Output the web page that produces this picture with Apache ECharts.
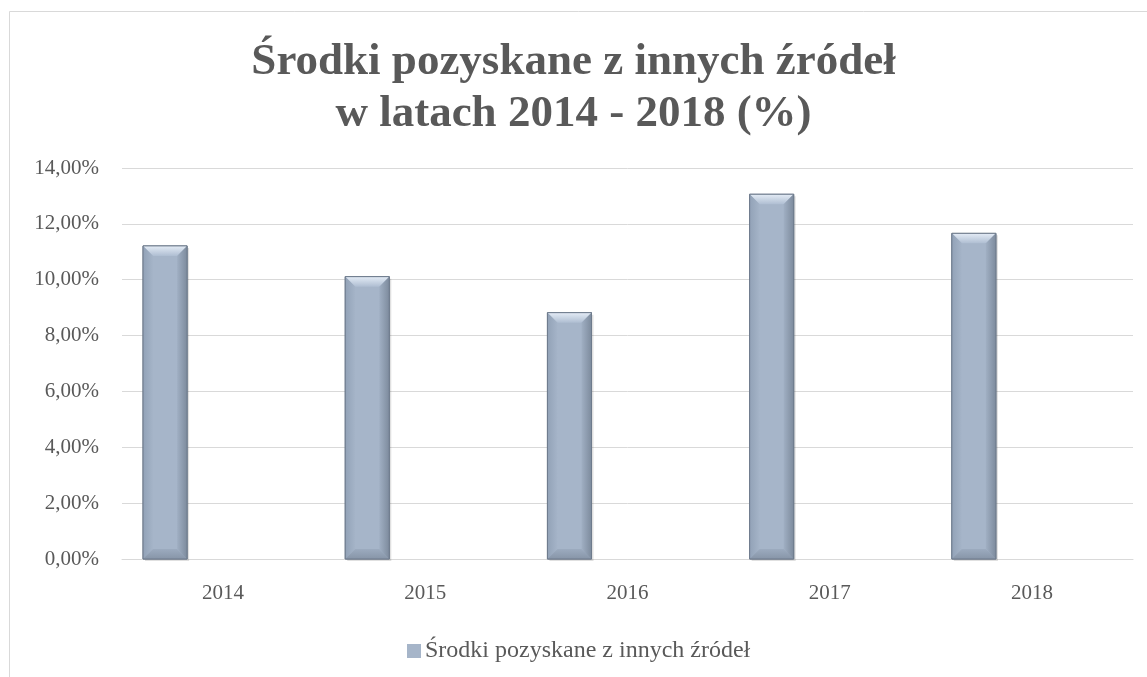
<!DOCTYPE html>
<html>
<head>
<meta charset="utf-8">
<script src="https://cdn.jsdelivr.net/npm/echarts@6/dist/echarts.min.js"></script>
<style>
html,body{margin:0;padding:0;background:#fff;}
#chart{width:1147px;height:677px;}
</style>
</head>
<body>
<div id="chart"></div>
<script>
const titleLines = ['Środki pozyskane z innych źródeł', 'w latach 2014 - 2018 (%)'];
const seriesName = 'Środki pozyskane z innych źródeł';
const categories = ['2014', '2015', '2016', '2017', '2018'];
const values = [11.21, 10.11, 8.82, 13.06, 11.66];
const yTicks = { min: 0, max: 14, interval: 2 };

const FONT = '"Liberation Serif", "DejaVu Serif", serif';
const TXT = '#595959';

function renderBar(params, api) {
  const idx = api.value(0);
  const val = api.value(1);
  const base = api.coord([idx, 0]);
  const top = api.coord([idx, val]);
  const band = api.size([1, 0])[0];
  const w = band * 0.218;
  const x0 = base[0] - band / 2 + band * 0.104;
  const x1 = x0 + w;
  const y0 = top[1];
  const y1 = base[1];
  const b = 10;
  return {
    type: 'group',
    children: [
      { type: 'rect', shape: { x: x0 + 2, y: y0 + 2, width: w, height: y1 - y0 },
        style: { fill: 'rgba(0,0,0,0.12)' } },
      { type: 'rect', shape: { x: x0, y: y0, width: w, height: y1 - y0 },
        style: { fill: new echarts.graphic.LinearGradient(0, 0, 1, 0, [
          { offset: 0, color: '#97A7BC' }, { offset: 0.2, color: '#A6B5C9' },
          { offset: 0.8, color: '#A6B5C9' }, { offset: 1, color: '#8694A7' }]),
          stroke: '#6E7B8C', lineWidth: 1 } },
      { type: 'polygon', shape: { points: [[x0, y0], [x1, y0], [x1 - b, y0 + b], [x0 + b, y0 + b]] },
        style: { fill: new echarts.graphic.LinearGradient(0, 0, 0, 1, [
          { offset: 0, color: '#E4ECF6' }, { offset: 1, color: '#AFBED2' }]) } },
      { type: 'polygon', shape: { points: [[x1, y0], [x1, y1], [x1 - b, y1 - b], [x1 - b, y0 + b]] },
        style: { fill: new echarts.graphic.LinearGradient(0, 0, 1, 0, [
          { offset: 0, color: '#A0AFC3' }, { offset: 1, color: '#7D8B9D' }]) } },
      { type: 'polygon', shape: { points: [[x0, y0], [x0, y1], [x0 + b, y1 - b], [x0 + b, y0 + b]] },
        style: { fill: new echarts.graphic.LinearGradient(0, 0, 1, 0, [
          { offset: 0, color: '#92A2B7' }, { offset: 1, color: '#A5B4C8' }]) } },
      { type: 'polygon', shape: { points: [[x0, y1], [x1, y1], [x1 - b, y1 - b], [x0 + b, y1 - b]] },
        style: { fill: new echarts.graphic.LinearGradient(0, 0, 0, 1, [
          { offset: 0, color: '#9CABBF' }, { offset: 1, color: '#8795A8' }]) } },
      { type: 'rect', shape: { x: x0, y: y0, width: w, height: y1 - y0 },
        style: { fill: 'none', stroke: '#6E7B8C', lineWidth: 1 } }
    ]
  };
}

const chart = echarts.init(document.getElementById('chart'), null, { renderer: 'canvas' });
chart.setOption({
  backgroundColor: '#ffffff',
  animation: false,
  graphic: [
    { type: 'rect', shape: { x: 9.5, y: 11.5, width: 1300, height: 900 },
      style: { fill: 'none', stroke: '#D9D9D9', lineWidth: 1 }, silent: true, z: -10 }
  ],
  title: {
    text: titleLines.join('\n'),
    left: 'center',
    top: 31,
    textStyle: { fontFamily: FONT, fontWeight: 'bold', fontSize: 45, color: TXT, lineHeight: 52 }
  },
  legend: {
    data: [{ name: seriesName, icon: 'rect' }],
    left: 402,
    top: 634,
    itemWidth: 14,
    itemHeight: 14,
    itemGap: 4,
    textStyle: { fontFamily: FONT, fontSize: 24, color: TXT, padding: [0, 0, 0, -1] }
  },
  grid: { left: 122, right: 14, top: 168, bottom: 118, containLabel: false },
  xAxis: {
    type: 'category',
    data: categories,
    axisLine: { lineStyle: { color: '#D9D9D9', width: 1 } },
    axisTick: { show: false },
    axisLabel: { fontFamily: FONT, fontSize: 21, color: TXT, margin: 24 }
  },
  yAxis: {
    type: 'value',
    min: yTicks.min,
    max: yTicks.max,
    interval: yTicks.interval,
    axisLine: { show: false },
    axisTick: { show: false },
    splitLine: { lineStyle: { color: '#D9D9D9', width: 1 } },
    axisLabel: {
      fontFamily: FONT, fontSize: 21, color: TXT, margin: 23,
      formatter: v => v.toFixed(2).replace('.', ',') + '%'
    }
  },
  series: [{
    name: seriesName,
    type: 'custom',
    itemStyle: { color: '#A6B5C9' },
    encode: { x: 0, y: 1 },
    data: values.map((v, i) => [i, v]),
    renderItem: renderBar
  }]
});
</script>
</body>
</html>
